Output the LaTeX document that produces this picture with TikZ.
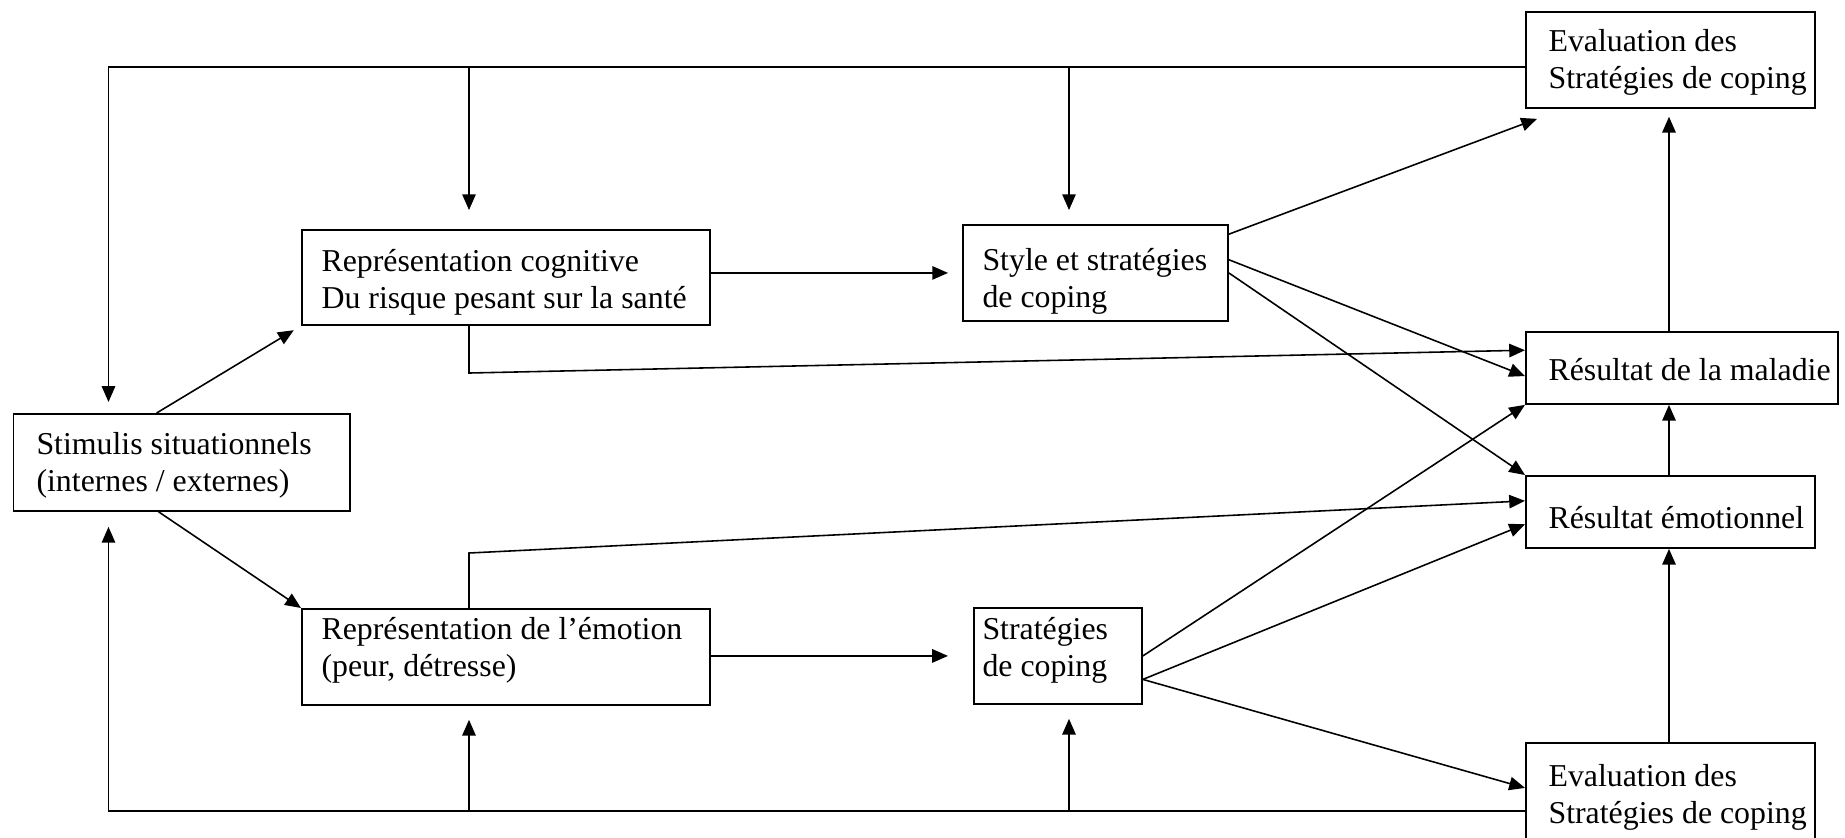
\documentclass[tikz,border=0pt]{standalone}
\usepackage{fontspec}
\setmainfont{Liberation Serif}
\usetikzlibrary{arrows.meta,calc}
\newcommand\mytwo[2]{\begin{tabular}[t]{@{}l@{}}#1\\#2\end{tabular}}
\begin{document}
\begin{tikzpicture}[x=0.38pt,y=-0.38pt]
\tikzset{
  box/.style={draw, line width=0.7pt, inner sep=0pt, anchor=north west},
  txt/.style={inner sep=0pt, anchor=base west, font=\fontsize{12.1pt}{14.06pt}\selectfont},
  arr/.style={line width=0.6pt, -{Triangle[length=6pt,width=5.1pt]}},
}
\useasboundingbox (0,0) rectangle (1845,837);
% boxes
\node[box, minimum width=127.87pt, minimum height=36.86pt] (stim)  at (12.5,413) {};
\node[box, minimum width=155.04pt, minimum height=36.1pt]  (cog)   at (301,229) {};
\node[box, minimum width=155.04pt, minimum height=36.48pt] (emo)   at (301,608) {};
\node[box, minimum width=100.7pt,  minimum height=36.48pt] (style) at (962,224) {};
\node[box, minimum width=63.84pt,  minimum height=36.48pt] (strat) at (973,607) {};
\node[box, minimum width=109.82pt, minimum height=36.48pt] (evT)   at (1525,11) {};
\node[box, minimum width=118.56pt, minimum height=27.36pt] (mal)   at (1525,331) {};
\node[box, minimum width=109.82pt, minimum height=27.36pt] (emot)  at (1525,475) {};
\node[box, minimum width=109.82pt, minimum height=36.48pt] (evB)   at (1525,742) {};
% texts
\node[txt] (stimT)  at (36,454)   {\mytwo{Stimulis situationnels}{(internes / externes)}};
\node[txt] (cogT)   at (321,271)  {\mytwo{Représentation cognitive}{Du risque pesant sur la santé}};
\node[txt] (emoT)   at (321,639)  {\mytwo{Représentation de l’émotion}{(peur, détresse)}};
\node[txt] (styleT) at (982,270)  {\mytwo{Style et stratégies}{de coping}};
\node[txt] (stratT) at (982,639)  {\mytwo{Stratégies}{de coping}};
\node[txt] (evTT)   at (1548,51)  {\mytwo{Evaluation des}{Stratégies de coping}};
\node[txt] (malT)   at (1548,380) {Résultat de la maladie};
\node[txt] (emotT)  at (1548,528) {Résultat émotionnel};
\node[txt] (evBT)   at (1548,786) {\mytwo{Evaluation des}{Stratégies de coping}};
% helper coordinates
\coordinate (topY) at (0,67);
\coordinate (botY) at (0,811);
\coordinate (loopX) at (108.5,0);
\coordinate (c1X) at (469,0);
\coordinate (c2X) at (1069,0);
\coordinate (c3X) at (1669,0);
\coordinate (cogB) at (469,373);
\coordinate (emoB) at (469,553);
% top feedback loop
\draw[arr, shorten >=4.2pt] (evT.west |- topY) -- (loopX |- topY) -- (loopX |- stim.north);
\draw[arr, shorten >=7.2pt] (c1X |- topY) -- (c1X |- cog.north);
\draw[arr, shorten >=5.3pt] (c2X |- topY) -- (c2X |- style.north);
% bottom feedback loop
\draw[arr, shorten >=5.7pt] (evB.west |- botY) -- (loopX |- botY) -- (loopX |- stim.south);
\draw[arr, shorten >=5.3pt] (c1X |- botY) -- (c1X |- emo.south);
\draw[arr, shorten >=5.3pt] (c2X |- botY) -- (c2X |- strat.south);
% stimulus to representations
\draw[arr, shorten >=3.2pt] ($(stim.north west)!0.426!(stim.north east)$) -- (cog.south west);
\draw[arr] ($(stim.south west)!0.432!(stim.south east)$) -- (emo.north west);
% representations to coping
\draw[arr, shorten >=5.3pt] (cog.east |- style.west) -- (style.west);
\draw[arr, shorten >=9.5pt] (emo.east |- strat.west) -- (strat.west);
% representations to outcomes
\draw[arr] (c1X |- cog.south) -- (cogB) -- ($(mal.north west)!0.26!(mal.south west)$);
\draw[arr] (c1X |- emo.north) -- (emoB) -- ($(emot.north west)!0.35!(emot.south west)$);
% style and strategies outputs
\draw[arr] ($(style.north east)!0.104!(style.south east)$) -- ([xshift=4.56pt,yshift=-3.8pt]evT.south west);
\draw[arr] ($(style.north east)!0.365!(style.south east)$) -- ($(mal.north west)!0.61!(mal.south west)$);
\draw[arr] (style.east) -- (emot.north west);
% coping strategies outputs
\draw[arr] (strat.east) -- (mal.south west);
\draw[arr] ($(strat.north east)!0.74!(strat.south east)$) -- ($(emot.north west)!0.667!(emot.south west)$);
\draw[arr] ($(strat.north east)!0.74!(strat.south east)$) -- ($(evB.north west)!0.469!(evB.south west)$);
% right column
\draw[arr, shorten >=3pt] (c3X |- mal.north) -- (c3X |- evT.south);
\draw[arr] (c3X |- emot.north) -- (c3X |- mal.south);
\draw[arr] (c3X |- evB.north) -- (c3X |- emot.south);
\end{tikzpicture}
\end{document}
